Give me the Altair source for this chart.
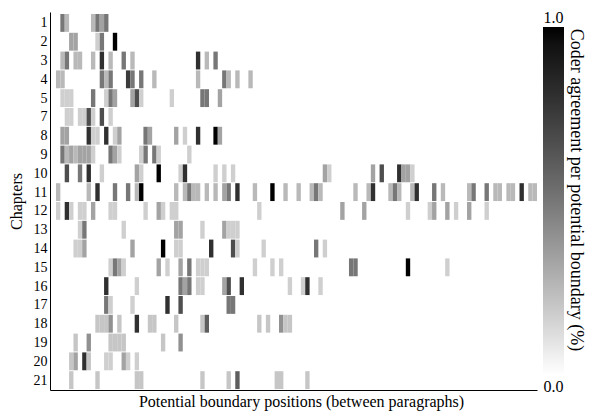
import altair as alt
import pandas as pd

chapters = [1, 2, 3, 4, 5, 7, 8, 9, 10, 11, 12, 13, 14, 15, 16, 17, 18, 19, 20, 21]

# (position index, share of coders placing a boundary there)
ch1 = [(1, .5), (2, .25), (8, .25), (9, .5), (10, .33), (11, .5)]
ch2 = [(3, .33), (4, .33), (9, .167), (10, .5), (13, 1.0)]
ch3 = [(1, .25), (2, .5), (4, .25), (5, .25), (8, .25), (10, .8), (12, .25), (15, .5), (17, .25),
       (32, .8), (34, .25), (36, .5)]
ch4 = [(0, .25), (1, .25), (10, .5), (11, .25), (12, .5), (16, .75), (17, .5), (19, .5), (22, .25),
       (32, .25), (38, .5), (39, .25), (41, .25), (44, .25)]
ch5 = [(1, .167), (2, .167), (3, .167), (8, .5), (11, .167), (12, .5), (13, .33), (17, .33), (18, .67),
       (19, .167), (26, .167), (33, .5), (34, .5), (37, .33)]
ch7 = [(2, .167), (3, .167), (5, .167), (6, .167), (7, .67), (8, .167), (10, .67), (12, .167)]
ch8 = [(1, .33), (2, .33), (7, .8), (8, .167), (9, .167), (11, .8), (13, .167), (14, .33), (20, .5),
       (21, .33), (27, .33), (29, .167), (32, .8), (36, 1.0), (37, .33)]
ch9 = [(1, .5), (2, .25), (3, .33), (4, .25), (5, .33), (6, .33), (7, .33), (8, .167), (12, .5),
       (13, .33), (14, .167), (19, .167), (20, .5), (22, .5), (23, .167), (30, .167)]
ch10 = [(2, .67), (5, .5), (7, .8), (10, .167), (18, .33), (19, .167), (23, 1.0), (28, .167), (29, .8),
        (36, .167), (38, .167), (40, .167), (61, .33), (62, .167), (72, .33), (74, .67), (78, .8),
        (79, .33), (80, .33), (81, .167)]
ch11 = [(0, .25), (7, .25), (9, .8), (13, .5), (16, .5), (18, .25), (19, 1.0), (27, .25), (29, .25),
        (30, .5), (31, .25), (32, .25), (34, .25), (36, .25), (38, .33), (39, .5), (41, .8), (45, .25),
        (49, 1.0), (52, .25), (55, .25), (58, .25), (59, .5), (60, .25), (68, .25), (71, .25), (72, .8),
        (76, .25), (77, .5), (78, .25), (81, .25), (82, .8), (86, .5), (88, .25), (94, .25), (95, .5),
        (98, .5), (100, .25), (101, .25), (103, .25), (104, .25), (106, .8), (108, .25), (109, .25)]
ch12 = [(0, .167), (2, .8), (3, .167), (5, .167), (6, .167), (8, .33), (12, .167), (13, .167), (20, .167),
        (23, .33), (24, .167), (26, .167), (27, .167), (46, .167), (65, .33), (70, .33), (80, .167),
        (85, .167), (86, .33), (89, .33), (91, .167), (94, .33), (98, .167)]
ch13 = [(5, .167), (6, .5), (15, .167), (27, .33), (28, .33), (33, .167), (38, .33), (39, .167),
        (40, .167), (41, .167)]
ch14 = [(4, .167), (5, .167), (6, .33), (17, .33), (24, 1.0), (27, .167), (28, .167), (35, .8),
        (40, .67), (41, .167), (47, .167), (59, .5), (61, .167)]
ch15 = [(12, .167), (13, .5), (14, .33), (15, .167), (23, .33), (25, .167), (28, .33), (30, .5),
        (32, .167), (33, .167), (34, .167), (45, .167), (49, .167), (51, .167), (67, .5), (68, .5),
        (80, 1.0), (89, .167)]
ch16 = [(11, .8), (18, .167), (28, .5), (29, .33), (30, .5), (32, .167), (33, .167), (38, .33),
        (39, .67), (42, .8), (53, .167), (56, .167), (57, .8), (60, .167)]
ch17 = [(11, .5), (12, .167), (17, .167), (25, .8), (28, .67), (39, .5), (40, .5)]
ch18 = [(9, .2), (10, .2), (11, .2), (12, .4), (14, .2), (18, .8), (21, .2), (22, .2), (27, .2),
        (33, .2), (34, .6), (46, .2), (48, .2), (51, .4), (52, .2), (53, .2)]
ch19 = [(4, .2), (7, .4), (12, .2), (13, .2), (14, .2), (15, .2), (24, .2), (28, .4)]
ch20 = [(3, .2), (4, .33), (6, .8), (7, .2), (11, .167), (12, .167), (15, .33), (16, .167), (18, .167)]
ch21 = [(3, .2), (9, .2), (18, .2), (19, .2), (33, .2), (39, .2), (41, .6), (50, .2), (51, .2), (57, .2)]

rows = [ch1, ch2, ch3, ch4, ch5, ch7, ch8, ch9, ch10, ch11, ch12, ch13, ch14, ch15, ch16,
        ch17, ch18, ch19, ch20, ch21]

colorbar_labels = ["1.0", "0.0"]
x_title = "Potential boundary positions (between paragraphs)"
y_title = "Chapters"
cb_title = "Coder agreement per potential boundary (%)"

recs = []
for j, (ch, cells) in enumerate(zip(chapters, rows)):
    for k, v in cells:
        recs.append({"chapter": ch, "top": j, "bottom": j + 0.95,
                     "start": k, "end": k + 1, "agreement": v})
df = pd.DataFrame(recs)

FONT = "Liberation Serif"
label_expr = "[" + ",".join("'%d'" % c for c in chapters) + "][round(datum.value - 0.475)]"

W, H = 487, 378

heat = alt.Chart(df).mark_rect(strokeWidth=0).encode(
    x=alt.X("start:Q",
            scale=alt.Scale(domain=[-1.364, 110], nice=False, zero=False),
            axis=alt.Axis(title=x_title, labels=False, ticks=False, grid=False,
                          domainColor="black", domainWidth=1, titlePadding=3, titleX=251,
                          titleFont=FONT, titleFontSize=16, titleFontWeight="normal",
                          titleColor="black")),
    x2="end:Q",
    y=alt.Y("top:Q",
            scale=alt.Scale(domain=[-0.106, 20.0], reverse=True, nice=False, zero=False),
            axis=alt.Axis(title=y_title, values=[j + 0.475 for j in range(len(chapters))],
                          labelExpr=label_expr, ticks=False, grid=False, domainColor="black",
                          domainWidth=1, labelPadding=3, labelFont=FONT, labelFontSize=14,
                          labelColor="black", titlePadding=9, titleFont=FONT,
                          titleFontSize=16, titleFontWeight="normal", titleColor="black")),
    y2="bottom:Q",
    color=alt.Color("agreement:Q",
                    scale=alt.Scale(domain=[0, 1], range=["#ffffff", "#000000"]),
                    legend=alt.Legend(orient="none", legendX=493, legendY=15,
                                      direction="vertical", gradientLength=348,
                                      gradientThickness=21, title=None, labelExpr="''",
                                      labelOffset=0, padding=0, gradientStrokeWidth=0)),
)

top_lbl = alt.Chart(pd.DataFrame({"t": [colorbar_labels[0]]})).mark_text(
    font=FONT, fontSize=16, align="center", baseline="middle", color="black"
).encode(text="t:N", x=alt.value(503.5), y=alt.value(6))

bot_lbl = alt.Chart(pd.DataFrame({"t": [colorbar_labels[1]]})).mark_text(
    font=FONT, fontSize=16, align="center", baseline="middle", color="black"
).encode(text="t:N", x=alt.value(503.5), y=alt.value(375))

cb_ttl = alt.Chart(pd.DataFrame({"t": [cb_title]})).mark_text(
    font=FONT, fontSize=18, align="center", baseline="middle", angle=90, color="black"
).encode(text="t:N", x=alt.value(526), y=alt.value(178))

chart = alt.layer(heat, top_lbl, bot_lbl, cb_ttl).properties(
    width=W, height=H,
    autosize=alt.AutoSizeParams(type="none"),
    padding={"left": 42, "top": 4, "right": 50, "bottom": 21},
    background="white",
).configure_view(stroke="transparent")

chart.save("out.html", embed_options={"renderer": "svg", "actions": False})
